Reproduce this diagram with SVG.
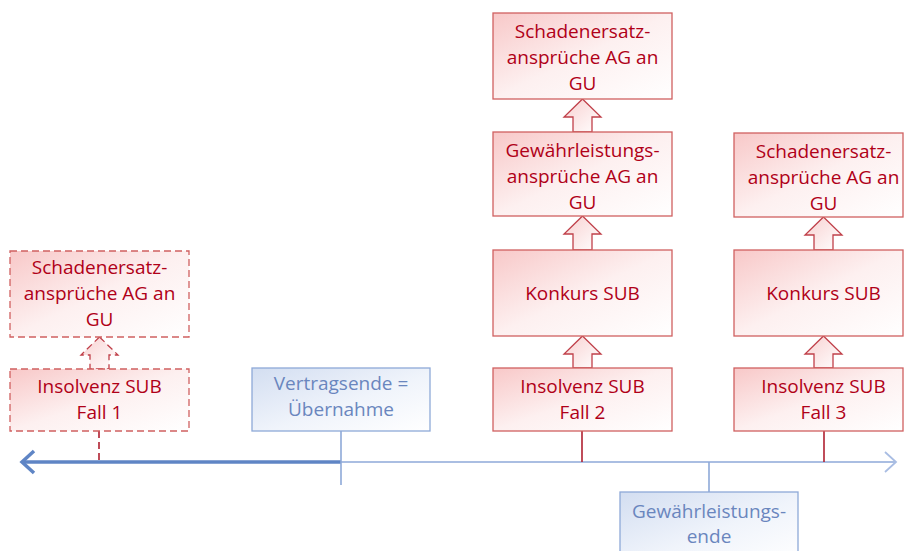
<svg xmlns="http://www.w3.org/2000/svg" width="904" height="551" viewBox="0 0 904 551">
  <defs>
    <linearGradient id="gRed" x1="0" y1="0" x2="1" y2="1">
      <stop offset="0" stop-color="#F8C8C8"/>
      <stop offset="0.5" stop-color="#FDF0F0"/>
      <stop offset="1" stop-color="#FFFFFF"/>
    </linearGradient>
    <linearGradient id="gBlue" x1="0" y1="0" x2="1" y2="1">
      <stop offset="0" stop-color="#D3DEF1"/>
      <stop offset="0.55" stop-color="#F0F4FB"/>
      <stop offset="1" stop-color="#FFFFFF"/>
    </linearGradient>
    <linearGradient id="gArrow" x1="0" y1="0" x2="1" y2="1">
      <stop offset="0" stop-color="#F8D0D0"/>
      <stop offset="1" stop-color="#FFFFFF"/>
    </linearGradient>
  </defs>
  <style>
    .rbox { fill: url(#gRed); stroke: #D06060; stroke-width: 1.3; }
    .rdash { stroke-dasharray: 7 4; }
    .bbox { fill: url(#gBlue); stroke: #8EA9D8; stroke-width: 1.3; }
    .rt { font-family: "Open Sans", "Noto Sans", "Liberation Sans", sans-serif; font-size: 19px; fill: #B00018; text-anchor: middle; }
    .bt { font-family: "Open Sans", "Noto Sans", "Liberation Sans", sans-serif; font-size: 19px; fill: #6A86BE; text-anchor: middle; }
    .blk { fill: url(#gArrow); stroke: #C0404A; stroke-width: 1.3; stroke-linejoin: miter; }
    .rline { stroke: #B02030; stroke-width: 1.6; fill: none; }
    .bline { stroke: #8EA9D8; stroke-width: 1.6; fill: none; }
  </style>

  <!-- timeline and ticks -->
  <g id="connectors">
    <!-- thin part of the axis with open arrowhead -->
    <line class="bline" x1="341" y1="462" x2="896" y2="462" stroke="#A9BDE3" stroke-width="1.8"/>
    <polyline points="885,452 896,462 885,472" fill="none" stroke="#A9BDE3" stroke-width="1.8"/>
    <!-- thick part of the axis pointing left -->
    <line x1="24" y1="462" x2="341" y2="462" stroke="#5F85C5" stroke-width="3.5"/>
    <polyline points="34,451 22,462 34,473" fill="none" stroke="#5F85C5" stroke-width="3.5"/>
    <!-- ticks -->
    <line class="bline" x1="341" y1="431" x2="341" y2="485" stroke="#7E9CD2"/>
    <line class="bline" x1="709" y1="462" x2="709" y2="492" stroke="#7E9CD2"/>
    <line class="rline rdash" x1="99" y1="431" x2="99" y2="462"/>
    <line class="rline" x1="582" y1="431" x2="582" y2="462"/>
    <line class="rline" x1="824" y1="431" x2="824" y2="462"/>
    <!-- block arrows -->
    <path class="blk rdash" d="M99.5,337 L118,355 L109,355 L109,369 L90,369 L90,355 L81,355 Z"/>
    <path class="blk" d="M582.5,99 L601,117 L592,117 L592,132 L573,132 L573,117 L564,117 Z"/>
    <path class="blk" d="M582.5,216 L601,234 L592,234 L592,250 L573,250 L573,234 L564,234 Z"/>
    <path class="blk" d="M582.5,336 L601,354 L592,354 L592,368 L573,368 L573,354 L564,354 Z"/>
    <path class="blk" d="M823.5,217 L842,235 L833,235 L833,250 L814,250 L814,235 L805,235 Z"/>
    <path class="blk" d="M823.5,336 L842,354 L833,354 L833,368 L814,368 L814,354 L805,354 Z"/>
  </g>

  <!-- Fall 1 -->
  <g id="fall1-schaden">
    <rect class="rbox rdash" x="10" y="251" width="179" height="86"/>
    <text class="rt" x="99.5" y="274">Schadenersatz-</text>
    <text class="rt" x="99.5" y="300">ansprüche AG an</text>
    <text class="rt" x="99.5" y="326">GU</text>
  </g>
  <g id="fall1-insolvenz">
    <rect class="rbox rdash" x="10" y="369" width="179" height="62"/>
    <text class="rt" x="99.5" y="393">Insolvenz SUB</text>
    <text class="rt" x="99.5" y="419">Fall 1</text>
  </g>

  <!-- Vertragsende -->
  <g id="vertragsende">
    <rect class="bbox" x="252" y="368" width="178" height="63"/>
    <text class="bt" x="341" y="390">Vertragsende =</text>
    <text class="bt" x="341" y="416">Übernahme</text>
  </g>

  <!-- Fall 2 -->
  <g id="fall2-schaden">
    <rect class="rbox" x="493" y="13" width="179" height="86"/>
    <text class="rt" x="582.5" y="38">Schadenersatz-</text>
    <text class="rt" x="582.5" y="64">ansprüche AG an</text>
    <text class="rt" x="582.5" y="90">GU</text>
  </g>
  <g id="fall2-gewaehr">
    <rect class="rbox" x="493" y="132" width="179" height="84"/>
    <text class="rt" x="582.5" y="157">Gewährleistungs-</text>
    <text class="rt" x="582.5" y="183">ansprüche AG an</text>
    <text class="rt" x="582.5" y="209">GU</text>
  </g>
  <g id="fall2-konkurs">
    <rect class="rbox" x="493" y="250" width="179" height="86"/>
    <text class="rt" x="582.5" y="300">Konkurs SUB</text>
  </g>
  <g id="fall2-insolvenz">
    <rect class="rbox" x="493" y="368" width="179" height="63"/>
    <text class="rt" x="582.5" y="393">Insolvenz SUB</text>
    <text class="rt" x="582.5" y="419">Fall 2</text>
  </g>

  <!-- Fall 3 -->
  <g id="fall3-schaden">
    <rect class="rbox" x="734" y="133" width="169" height="84"/>
    <text class="rt" x="823.5" y="158">Schadenersatz-</text>
    <text class="rt" x="823.5" y="184">ansprüche AG an</text>
    <text class="rt" x="823.5" y="210">GU</text>
  </g>
  <g id="fall3-konkurs">
    <rect class="rbox" x="734" y="250" width="169" height="86"/>
    <text class="rt" x="823.5" y="300">Konkurs SUB</text>
  </g>
  <g id="fall3-insolvenz">
    <rect class="rbox" x="734" y="368" width="169" height="63"/>
    <text class="rt" x="823.5" y="393">Insolvenz SUB</text>
    <text class="rt" x="823.5" y="419">Fall 3</text>
  </g>

  <!-- Gewährleistungsende -->
  <g id="gewaehrleistungsende">
    <rect class="bbox" x="620" y="492" width="178" height="70"/>
    <text class="bt" x="709" y="518">Gewährleistungs-</text>
    <text class="bt" x="709" y="543">ende</text>
  </g>
</svg>
